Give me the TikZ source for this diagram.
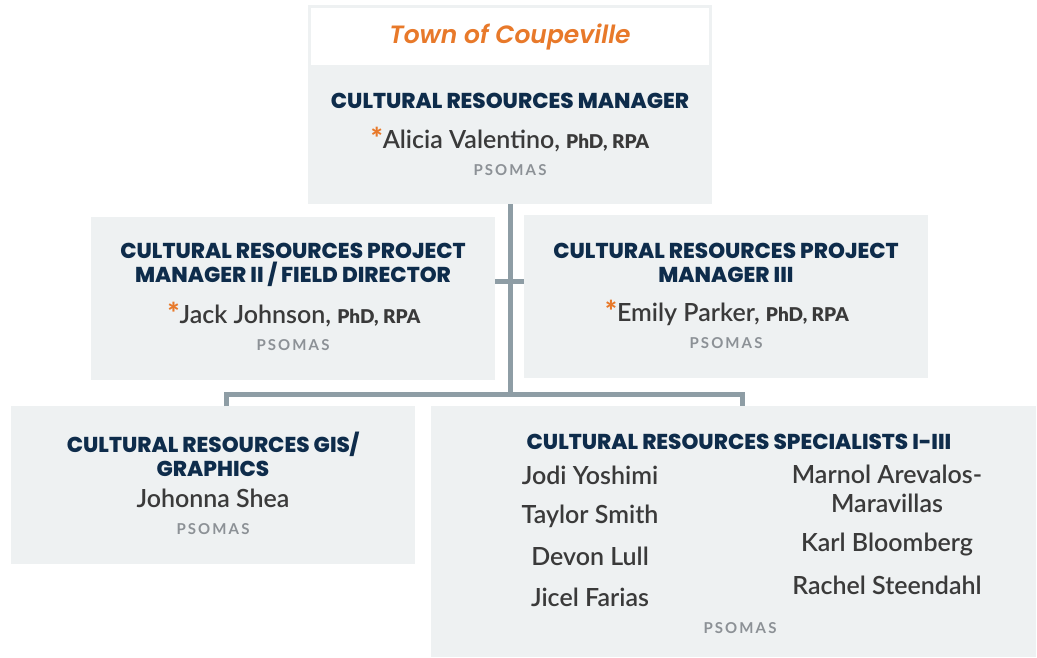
\documentclass[tikz,border=0pt]{standalone}
\usepackage{fontspec}
\setmainfont{Lato}
\newfontfamily\headFont{Poppins}[BoldFont={Poppins ExtraBold}]
\newfontfamily\townFont{Poppins SemiBold Italic}
\newfontfamily\nameFont{Lato Semibold}
\newfontfamily\firmFont[LetterSpace=14]{Lato}
\usepackage{tikz}
\definecolor{panelFill}{HTML}{EEF1F2}
\definecolor{roleNavy}{HTML}{0E2C4B}
\definecolor{accentOrange}{HTML}{E8792A}
\definecolor{nameGray}{HTML}{3A3A3A}
\definecolor{firmGray}{HTML}{8C9196}
\definecolor{lineGray}{HTML}{8E9DA5}
\tikzstyle{panel} = [fill=panelFill, draw=none, inner sep=0, outer sep=0]
\tikzstyle{titleBox} = [fill=white, draw=none, inner sep=0, outer sep=0]
\tikzstyle{townText} = [font=\townFont\fontsize{25}{28}\selectfont, text=accentOrange]
\tikzstyle{roleText} = [font=\headFont\bfseries\fontsize{21.5}{24}\selectfont, text=roleNavy, align=center]
\tikzstyle{nameText} = [font=\nameFont\fontsize{25}{29}\selectfont, text=nameGray, align=center, inner sep=0]
\tikzstyle{firmText} = [font=\firmFont\bfseries\fontsize{15}{16}\selectfont, text=firmGray, inner sep=0]
\tikzstyle{connector} = [draw=lineGray, line width=5pt, line join=miter]
\newcommand{\keyPerson}[1]{{\color{accentOrange}\bfseries\fontsize{28}{29}\selectfont*}#1, {\fontsize{19}{20}\selectfont\bfseries PhD, RPA}}

\begin{document}
\begin{tikzpicture}[x=1pt, y=-1pt]
  \useasboundingbox (0,0) rectangle (1037,657);

  % panels
  \node (topBox) [panel, minimum width=404, minimum height=199] at (510,104.5) {};
  \node (townBox) [titleBox, minimum width=398, minimum height=57] at (510,36.5) {};
  \node (leftManager) [panel, minimum width=404, minimum height=163] at (293,298.5) {};
  \node (rightManager) [panel, minimum width=404, minimum height=163] at (726,296.5) {};
  \node (gisBox) [panel, minimum width=404, minimum height=158] at (213,485) {};
  \node (specialistsBox) [panel, minimum width=605, minimum height=251] at (733.5,531.5) {};

  % connectors
  \coordinate (tickLevel) at (510,281);
  \coordinate (legLeft) at (226,394);
  \coordinate (legRight) at (742,394);
  \draw [connector] (topBox.south) -- (topBox.south |- legLeft);
  \draw [connector] (leftManager.east |- tickLevel) -- (rightManager.west |- tickLevel);
  \draw [connector] (gisBox.north -| legLeft) -- (legLeft) -- (legRight) -- (specialistsBox.north -| legRight);

  % town
  \node (town) [townText] at (510,37) {Town of Coupeville};

  % manager
  \node (topRole) [roleText] at (510,101) {CULTURAL RESOURCES MANAGER};
  \node (topName) [nameText] at (510,140) {\keyPerson{Alicia Valentino}};
  \node (topFirm) [firmText] at (510,170) {PSOMAS};

  % project managers
  \node (leftRole) [roleText] at (293,265) {CULTURAL RESOURCES PROJECT\\MANAGER II / FIELD DIRECTOR};
  \node (leftName) [nameText] at (294,315) {\keyPerson{Jack Johnson}};
  \node (leftFirm) [firmText] at (293,345) {PSOMAS};
  \node (rightRole) [roleText] at (726,263) {CULTURAL RESOURCES PROJECT\\MANAGER III};
  \node (rightName) [nameText] at (727,313) {\keyPerson{Emily Parker}};
  \node (rightFirm) [firmText] at (726,343) {PSOMAS};

  % gis
  \node (gisRole) [roleText] at (213,454) {CULTURAL RESOURCES GIS/\\GRAPHICS};
  \node (gisName) [nameText] at (213,498) {Johonna Shea};
  \node (gisFirm) [firmText] at (213,529) {PSOMAS};

  % specialists
  \node (specRole) [roleText] at (739,442) {CULTURAL RESOURCES SPECIALISTS I-III};
  \foreach \who/\yy [count=\k] in {Jodi Yoshimi/475, Taylor Smith/516, Devon Lull/556, Jicel Farias/597}
    \node (specLeft\k) [nameText] at (590,\yy) {\who};
  \foreach \who/\yy [count=\k] in {{Marnol Arevalos-\\Maravillas}/489, Karl Bloomberg/545, Rachel Steendahl/585}
    \node (specRight\k) [nameText] at (887,\yy) {\who};
  \node (specFirm) [firmText] at (740,628) {PSOMAS};
\end{tikzpicture}
\end{document}
